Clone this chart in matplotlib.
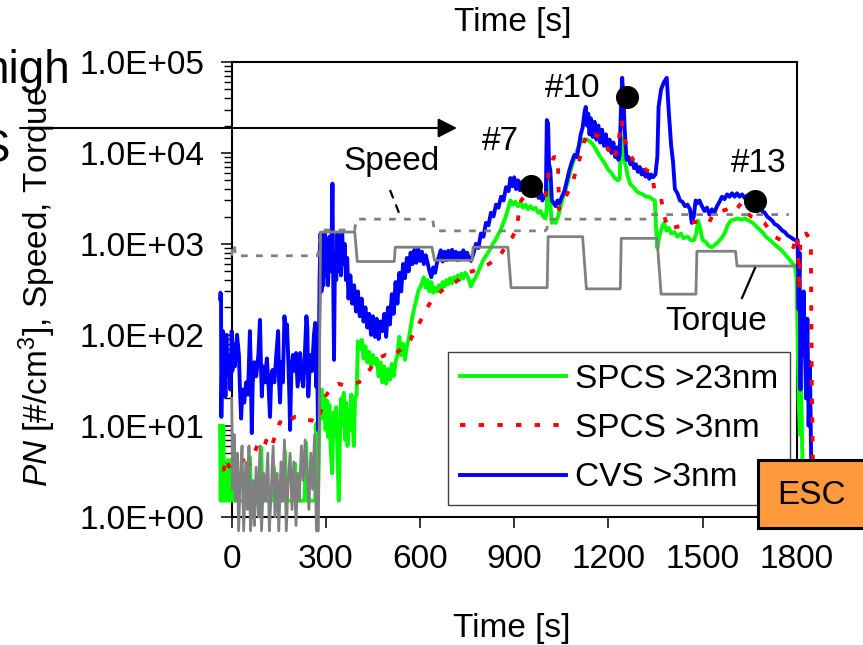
import numpy as np
import matplotlib
matplotlib.use("Agg")
import matplotlib.pyplot as plt
from matplotlib.ticker import FixedLocator, LogLocator, FuncFormatter, NullFormatter
from matplotlib.patches import Rectangle, FancyArrowPatch
from matplotlib.lines import Line2D

plt.rcParams["font.family"] = ["Liberation Sans", "DejaVu Sans"]
plt.rcParams["mathtext.fontset"] = "custom"
plt.rcParams["mathtext.rm"] = "Liberation Sans"
plt.rcParams["mathtext.it"] = "Liberation Sans:italic"

# ---------------------------------------------------------------- data
# (time [s], value) pairs for each trace
cvs_3nm = [
    (-37, 250), (-36, 290), (-34, 280), (-33, 12.5), (-31, 40), (-28, 110), (-26, 25), (-23, 70),
    (-20, 21), (-17, 100), (-13, 35), (-8, 60), (-4, 25), (0, 110), (2, 40), (5, 80), (10, 45),
    (17, 100), (23, 60), (26, 27), (30, 12), (34, 25), (40, 18), (46, 30), (52, 22), (58, 110),
    (61, 40), (64, 8.3), (67, 30), (72, 50), (78, 35), (85, 60), (90, 146), (93, 50), (96, 21),
    (100, 45), (106, 30), (112, 55), (118, 25), (122, 12.5), (126, 35), (130, 41), (136, 30),
    (142, 60), (148, 110), (151, 30), (154, 18), (158, 50), (163, 30), (168, 160), (172, 110),
    (176, 130), (180, 57), (184, 20), (186, 9), (190, 40), (195, 60), (200, 40), (205, 63),
    (210, 27), (218, 63), (222, 35), (228, 27), (232, 50), (238, 160), (241, 120), (244, 21),
    (250, 60), (256, 40), (262, 100), (266, 135), (269, 27), (272, 60), (275, 9), (280, 400),
    (283, 1300), (286, 300), (289, 1200), (292, 350), (296, 1300), (300, 450), (304, 1100),
    (307, 350), (311, 1200), (315, 500), (318, 900), (321, 4600), (323, 600), (326, 53),
    (329, 800), (333, 400), (337, 1300), (340, 500), (344, 1200), (348, 450), (352, 1300),
    (356, 600), (360, 1000), (364, 400), (368, 700), (372, 250), (378, 450), (384, 220),
    (390, 350), (396, 180), (402, 300), (408, 160), (414, 250), (420, 140), (426, 200),
    (432, 120), (438, 170), (444, 100), (450, 160), (456, 95), (462, 150), (468, 90), (474, 140),
    (480, 110), (486, 170), (492, 95), (498, 200), (504, 130), (510, 280), (516, 170), (522, 380),
    (528, 220), (534, 480), (540, 300), (546, 600), (552, 420), (558, 700), (564, 500), (570, 800),
    (576, 600), (582, 860), (588, 620), (594, 900), (600, 650), (606, 820), (612, 600), (618, 750),
    (624, 620), (630, 500), (636, 430), (642, 550), (648, 480), (654, 620), (660, 720), (666, 850),
    (672, 640), (678, 820), (684, 660), (690, 840), (696, 700), (702, 860), (708, 680), (714, 820),
    (720, 660), (726, 800), (732, 700), (738, 850), (744, 680), (750, 800), (756, 700), (762, 650),
    (770, 780), (778, 1000), (786, 900), (794, 1300), (802, 1200), (810, 1700), (818, 1600),
    (826, 2200), (834, 2000), (842, 2700), (850, 2500), (858, 3300), (866, 3000), (874, 4200),
    (882, 3800), (888, 5300), (894, 4300), (900, 5400), (906, 4000), (912, 5000), (918, 3900),
    (924, 4800), (930, 4100), (936, 4600), (942, 3700), (948, 4400), (954, 3600), (960, 4200),
    (966, 3400), (972, 4000), (978, 3200), (984, 3800), (990, 3000), (995, 3400), (1001, 3500),
    (1004, 23000), (1008, 21000), (1011, 7500), (1015, 6500), (1020, 3000), (1026, 2800),
    (1032, 2600), (1038, 3000), (1044, 2800), (1052, 3300), (1060, 3800), (1068, 5000),
    (1076, 6500), (1084, 8000), (1092, 9500), (1100, 9000), (1106, 12000), (1112, 16000),
    (1118, 19000), (1124, 28000), (1128, 32000), (1132, 20000), (1136, 27000), (1140, 16000),
    (1144, 24000), (1150, 15000), (1156, 22000), (1162, 14000), (1168, 20000), (1174, 13000),
    (1180, 18000), (1186, 12000), (1192, 16000), (1198, 11000), (1204, 14000), (1210, 10000),
    (1216, 13000), (1222, 9000), (1228, 11500), (1232, 8400), (1236, 9500), (1240, 30000),
    (1244, 67000), (1248, 40000), (1252, 18000), (1258, 8400), (1264, 9000), (1270, 7500),
    (1276, 8200), (1282, 6800), (1288, 7500), (1294, 6200), (1300, 7000), (1306, 5800),
    (1312, 6500), (1318, 5500), (1324, 6000), (1330, 5200), (1336, 5800), (1342, 5400),
    (1350, 5800), (1356, 9000), (1360, 32000), (1368, 50000), (1377, 60000), (1386, 67000),
    (1392, 30000), (1400, 12000), (1406, 8000), (1412, 4000), (1420, 3600), (1428, 3000),
    (1436, 2900), (1444, 2600), (1452, 2700), (1460, 2400), (1466, 1700), (1472, 2000),
    (1478, 3000), (1484, 2800), (1490, 3000), (1498, 2600), (1506, 2300), (1514, 2500),
    (1522, 2100), (1530, 2400), (1538, 2200), (1546, 2600), (1554, 2900), (1562, 3300),
    (1570, 3100), (1578, 3500), (1586, 3300), (1594, 3600), (1602, 3300), (1610, 3600),
    (1618, 3300), (1626, 3500), (1634, 3200), (1642, 3400), (1650, 3100), (1658, 3300),
    (1666, 3000), (1674, 2700), (1682, 2500), (1690, 2300), (1698, 2200), (1706, 2000),
    (1714, 1900), (1722, 1800), (1730, 1650), (1738, 1600), (1746, 1500), (1754, 1400),
    (1762, 1350), (1770, 1250), (1778, 1200), (1786, 1150), (1794, 1100), (1803, 1100),
    (1806, 190), (1809, 800), (1812, 25), (1815, 250), (1818, 60), (1822, 300), (1826, 80),
    (1830, 20), (1834, 150), (1838, 10), (1842, 50), (1846, 4.5), (1850, 3),
]

spcs_23nm = [
    (-37, 10), (-35, 1.5), (-33, 8), (-30, 1.5), (-27, 10), (-24, 1.5), (-20, 3), (-16, 1.5),
    (-12, 4.2), (-8, 1.5), (-3, 4.2), (0, 1.5), (4, 4.2), (8, 1.5), (26, 1.5), (42, 1.5),
    (52, 1.5), (58, 4.5), (62, 1.5), (88, 1.5), (94, 5.8), (98, 1.5), (128, 1.5), (134, 3.5),
    (140, 1.5), (164, 1.5), (170, 5.2), (174, 1.5), (196, 1.5), (202, 3.8), (206, 1.5),
    (232, 1.5), (237, 6.5), (242, 1.5), (266, 1.5), (270, 10.7), (275, 1.5), (279, 10),
    (283, 20), (287, 25), (291, 12), (295, 21), (299, 9), (303, 19), (307, 7.5), (311, 17),
    (315, 6), (320, 3), (324, 14), (328, 8), (333, 16), (337, 5), (341, 1.5), (345, 8),
    (349, 20), (353, 10), (357, 23), (361, 7), (365, 18), (369, 6), (373, 15), (377, 9),
    (381, 22), (385, 12), (389, 6), (393, 20), (398, 22), (402, 85), (408, 70), (414, 88),
    (420, 55), (426, 75), (432, 50), (438, 65), (444, 44), (450, 60), (456, 48), (462, 55),
    (468, 35), (474, 50), (480, 30), (486, 45), (492, 29), (498, 42), (504, 32), (510, 48),
    (516, 35), (522, 50), (528, 60), (534, 95), (540, 60), (546, 80), (552, 53), (558, 75),
    (564, 90), (570, 120), (576, 160), (582, 200), (588, 240), (594, 300), (600, 330),
    (606, 370), (612, 430), (618, 330), (624, 400), (630, 300), (636, 380), (642, 290),
    (648, 330), (654, 300), (660, 350), (666, 320), (672, 380), (678, 340), (684, 400),
    (690, 360), (696, 420), (702, 370), (708, 430), (714, 390), (720, 450), (726, 400),
    (732, 470), (738, 420), (744, 480), (750, 450), (756, 400), (762, 340), (768, 380),
    (776, 420), (784, 480), (792, 560), (800, 650), (808, 720), (816, 800), (824, 880),
    (832, 1000), (840, 1100), (848, 1250), (856, 1400), (864, 1650), (872, 1950), (880, 2400),
    (888, 3000), (896, 2700), (904, 2900), (912, 2600), (920, 2800), (928, 2500), (936, 2700),
    (944, 2400), (952, 2600), (960, 2400), (968, 2500), (976, 2200), (984, 2300), (992, 2000),
    (1000, 1900), (1004, 2500), (1008, 6500), (1012, 5500), (1016, 2500), (1020, 1700),
    (1026, 1800), (1032, 1700), (1040, 2000), (1048, 2600), (1056, 3300), (1064, 4000),
    (1072, 5000), (1080, 6500), (1088, 8000), (1096, 9500), (1104, 11500), (1112, 13000),
    (1120, 14000), (1130, 14000), (1140, 13500), (1150, 12500), (1160, 11000), (1170, 9500),
    (1180, 8500), (1190, 7500), (1200, 6500), (1210, 6000), (1220, 5300), (1230, 5000),
    (1236, 5200), (1240, 15000), (1244, 14000), (1250, 8400), (1256, 7000), (1262, 5500),
    (1270, 4500), (1280, 4200), (1290, 3800), (1300, 3600), (1310, 3500), (1320, 3300),
    (1330, 3300), (1340, 3100), (1348, 3000), (1352, 1500), (1356, 900), (1362, 1200),
    (1370, 1500), (1377, 1700), (1385, 1400), (1392, 1500), (1400, 1300), (1410, 1350),
    (1420, 1200), (1431, 1300), (1440, 1150), (1452, 1200), (1462, 1100), (1473, 1100),
    (1480, 1300), (1486, 1800), (1492, 1500), (1500, 1100), (1510, 1050), (1520, 950),
    (1530, 920), (1540, 980), (1550, 1050), (1560, 1150), (1570, 1300), (1580, 1600),
    (1590, 1800), (1600, 1850), (1612, 1900), (1624, 1850), (1636, 1900), (1648, 1800),
    (1660, 1700), (1676, 1500), (1690, 1350), (1702, 1200), (1715, 1100), (1728, 1000),
    (1740, 920), (1752, 850), (1764, 760), (1776, 680), (1788, 600), (1795, 560), (1800, 400),
    (1803, 100), (1806, 20), (1810, 8), (1814, 30), (1818, 4.5), (1825, 3),
]

spcs_3nm = [
    (-30, 3.3), (-25, 3.3), (-20, 4.2), (-15, 4.4), (-10, 3.6), (0, 3.4), (10, 3.4), (20, 3.5),
    (30, 3.8), (40, 4.5), (50, 3.4), (60, 4.0), (70, 4.8), (82, 6.1), (90, 6.0), (100, 5.5),
    (113, 7.3), (128, 6.0), (141, 8.3), (154, 11), (170, 10), (186, 11.5), (200, 12.5),
    (218, 12.5), (235, 11.5), (255, 11.5), (272, 10.7), (285, 15), (298, 21), (310, 24),
    (324, 28), (340, 29), (355, 28), (368, 28), (385, 29), (404, 30), (420, 32), (432, 38),
    (445, 44), (457, 50), (475, 57), (490, 60), (512, 56), (528, 64), (544, 72), (569, 88),
    (591, 122), (611, 164), (627, 210), (641, 250), (655, 275), (671, 310), (687, 335),
    (700, 360), (713, 380), (732, 430), (751, 490), (767, 500), (783, 520), (800, 560),
    (819, 600), (835, 650), (851, 700), (866, 860), (880, 1000), (895, 1200), (908, 1500),
    (915, 2200), (922, 3000), (935, 3400), (950, 3300), (968, 3600), (984, 2900), (1000, 3200),
    (1010, 6500), (1026, 9000), (1039, 9000), (1043, 2400), (1056, 3000), (1070, 3600),
    (1088, 5000), (1100, 7000), (1110, 9000), (1122, 13000), (1135, 17000), (1150, 16000),
    (1166, 15500), (1180, 14000), (1192, 13000), (1205, 10000), (1217, 8400), (1230, 12000),
    (1242, 23000), (1252, 14000), (1262, 11000), (1278, 8400), (1297, 8000), (1320, 6500),
    (1338, 6000), (1347, 3900), (1367, 3300), (1377, 2100), (1390, 1450), (1405, 1500),
    (1422, 1550), (1440, 1600), (1460, 1700), (1480, 1750), (1502, 1800), (1520, 1700),
    (1537, 2200), (1560, 2300), (1580, 2400), (1600, 2200), (1623, 2800), (1640, 2200),
    (1655, 2000), (1675, 1900), (1697, 1700), (1715, 1400), (1729, 1200), (1750, 1100),
    (1773, 1000), (1790, 920), (1800, 1250), (1805, 700), (1808, 300), (1812, 1200),
    (1830, 1300), (1845, 1100), (1848, 30), (1852, 3),
]

speed = [
    (0, 740), (3, 950), (8, 1000), (12, 740), (274, 740), (286, 1420), (392, 1420), (396, 1870),
    (640, 1870), (646, 1390), (998, 1390), (1004, 1450), (1008, 1870), (1325, 1870),
    (1330, 2100), (1775, 2100),
]

torque = [
    (0, 20), (3, 2), (8, 8), (12, 1.5), (18, 5), (22, 0.7), (28, 3), (33, 6), (38, 0.7),
    (45, 4), (50, 1.2), (55, 6), (60, 0.7), (68, 2.5), (72, 0.8), (78, 3.5), (85, 1), (90, 6),
    (95, 0.7), (102, 3), (108, 1.5), (115, 5), (120, 0.7), (126, 2), (132, 6), (138, 1),
    (145, 3), (150, 0.7), (157, 4), (162, 1.5), (168, 7), (174, 0.7), (180, 2.5), (186, 5),
    (192, 1.2), (198, 4), (205, 0.8), (210, 3), (215, 1.5), (222, 6), (228, 2.5), (234, 7),
    (240, 3), (246, 1.2), (252, 5), (258, 2), (264, 8), (270, 0.7), (276, 0.7), (283, 1350),
    (392, 1350), (400, 640), (518, 640), (521, 920), (638, 920), (646, 660), (766, 660),
    (769, 920), (880, 920), (890, 330), (1005, 330), (1008, 1200), (1118, 1200), (1130, 320),
    (1238, 320), (1241, 1150), (1355, 1150), (1368, 280), (1479, 280), (1482, 830),
    (1605, 830), (1610, 570), (1792, 570),
]

sample_points = [(952, 4350), (1258, 41000), (1667, 2970)]
sample_labels = ["#7", "#10", "#13"]
label_offsets = [(-21.6, 25.9), (-39.0, 0.0), (2.9, 21.0)]

x_ticks = [0, 300, 600, 900, 1200, 1500, 1800]
y_ticks = [1e0, 1e1, 1e2, 1e3, 1e4, 1e5]
legend_labels = ["SPCS >23nm", "SPCS >3nm", "CVS >3nm"]

# ---------------------------------------------------------------- figure
W, H = 863, 645
fig = plt.figure(figsize=(W / 100, H / 100), dpi=100)


def fx(x):
    return x / W


def fy(y):
    return 1 - y / H


ax = fig.add_axes([fx(231.7), fy(516.7), (796.7 - 231.7) / W, (516.7 - 62) / H])

GREEN, RED, BLUE, GRAY = "#00FF00", "#FF0000", "#0000FF", "#808080"
LW = 2.8
RED_DASH = (0, (1.4, 3.4))


def xy(pairs):
    a = np.array(pairs, dtype=float)
    return a[:, 0], a[:, 1]


t, v = xy(spcs_23nm)
ax.plot(t, v, color=GREEN, lw=LW, clip_on=False, zorder=3)
t, v = xy(cvs_3nm)
ax.plot(t, v, color=BLUE, lw=LW, clip_on=False, zorder=3.2)
t, v = xy(spcs_3nm)
ax.plot(t, v, color=RED, lw=LW, ls=RED_DASH, dash_capstyle="butt",
        clip_on=False, zorder=3.4)
t, v = xy(speed)
ax.plot(t, v, color=GRAY, lw=2.0, ls=(0, (2.4, 3.0)), dash_capstyle="butt",
        clip_on=False, zorder=3.6)
t, v = xy(torque)
ax.plot(t, v, color=GRAY, lw=2.0, clip_on=False, zorder=3.8)

t, v = xy(sample_points)
ax.plot(t, v, "o", color="black", ms=15.6, clip_on=False, zorder=6)
for (pt, pv), lab, off in zip(sample_points, sample_labels, label_offsets):
    ax.annotate(lab, xy=(pt, pv), xytext=off, textcoords="offset points",
                ha="center", va="baseline", fontsize=24, zorder=7)

ax.set_yscale("log")
ax.set_xlim(0, 1800)
ax.set_ylim(1, 1e5)
ax.set_xticks(x_ticks)
ax.set_xticklabels([str(x) for x in x_ticks])
ax.yaxis.set_major_locator(FixedLocator(y_ticks))
ax.yaxis.set_minor_locator(LogLocator(base=10, subs=np.arange(2, 10)))
ax.yaxis.set_minor_formatter(NullFormatter())
ax.yaxis.set_major_formatter(FuncFormatter(lambda val, pos: f"{val:.1E}"))
ax.tick_params(axis="both", which="major", direction="out", length=7.9, width=1.1,
               labelsize=24, colors="black")
ax.tick_params(axis="y", which="minor", direction="out", length=6.1, width=1.0)
ax.tick_params(axis="x", which="minor", bottom=False)
ax.tick_params(axis="y", which="major", pad=12)
ax.tick_params(axis="x", which="major", pad=12)
for s in ax.spines.values():
    s.set_linewidth(1.5)

handles = [Line2D([], [], color=GREEN, lw=LW),
           Line2D([], [], color=RED, lw=LW, ls=RED_DASH, dash_capstyle="butt"),
           Line2D([], [], color=BLUE, lw=LW)]
leg = ax.legend(handles, legend_labels, loc="upper left",
                bbox_to_anchor=(fx(448), fy(352)), bbox_transform=fig.transFigure,
                borderaxespad=0, fontsize=24, handlelength=3.2, handletextpad=0.25,
                labelspacing=0.55, borderpad=0.35, frameon=True, fancybox=False,
                edgecolor="#404040", framealpha=1)
leg.get_frame().set_linewidth(1.0)
leg.set_zorder(8)

# axis titles and notes
fig.text(fx(513), fy(23), "Time [s]", ha="center", va="center", fontsize=24)
fig.text(fx(512), fy(628), "Time [s]", ha="center", va="center", fontsize=24)
fig.text(fx(37), fy(287), r"$\mathit{PN}$ [#/cm$^{\mathrm{3}}$], Speed, Torque",
         rotation=90, ha="center", va="center", fontsize=24)
fig.text(fx(392), fy(170), "Speed", ha="center", va="baseline", fontsize=24)
fig.text(fx(716), fy(330), "Torque", ha="center", va="baseline", fontsize=24)
fig.add_artist(Line2D([fx(390), fx(401)], [fy(190), fy(218)], transform=fig.transFigure,
                      color="black", lw=1.6, ls=(0, (4, 3))))
fig.add_artist(Line2D([fx(742), fx(755)], [fy(298), fy(268)], transform=fig.transFigure,
                      color="black", lw=1.6))

fig.text(fx(71), fy(83), "high", ha="right", va="baseline", fontsize=33)
fig.text(fx(10), fy(162), "S", ha="right", va="baseline", fontsize=33)
fig.add_artist(FancyArrowPatch((fx(20), fy(128)), (fx(457), fy(128)),
                               transform=fig.transFigure,
                               arrowstyle="-|>,head_length=0.55,head_width=0.28",
                               mutation_scale=21, lw=1.5, color="black",
                               shrinkA=0, shrinkB=0, zorder=9))

fig.add_artist(Rectangle((fx(758), fy(528)), (880 - 758) / W, (528 - 460) / H,
                         transform=fig.transFigure, facecolor="#FF9A3C",
                         edgecolor="black", lw=2.2, zorder=10))
fig.text(fx(812), fy(495), "ESC", ha="center", va="center", fontsize=24,
         family=["Liberation Sans Narrow", "Liberation Sans"], zorder=11)

fig.savefig("out.png", dpi=100)
